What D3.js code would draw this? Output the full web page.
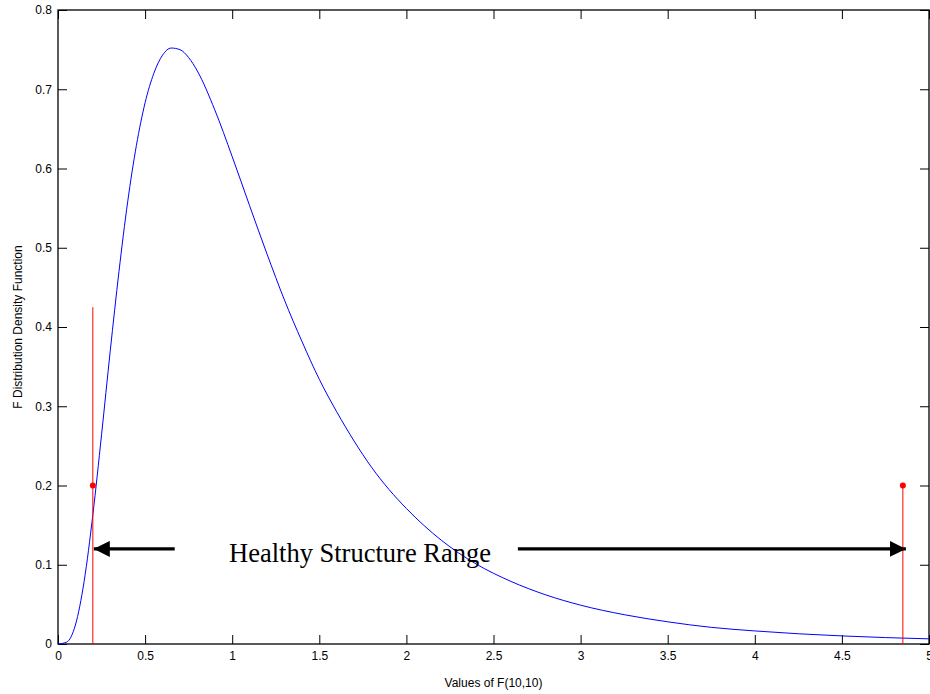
<!DOCTYPE html>
<html lang="en">
<head>
<meta charset="utf-8">
<title>F distribution</title>
<script src="https://cdn.jsdelivr.net/npm/d3@7"></script>
<style>
  body { margin: 0; background: #fff; }
  svg text { font-family: "Liberation Sans", Arial, sans-serif; }
</style>
</head>
<body>
<svg width="930" height="694"></svg>
<script>
// curve (x value, density)
const densX = [0, 0.05, 0.1, 0.15, 0.2, 0.25, 0.3, 0.35, 0.4, 0.45, 0.5, 0.55, 0.6, 0.65, 0.7, 0.75, 0.8, 0.9,
  1.0, 1.1, 1.2, 1.3, 1.4, 1.5, 1.6, 1.7, 1.8, 1.9, 2.0, 2.2, 2.4, 2.6, 2.8, 3.0, 3.25, 3.5, 3.75, 4.0, 4.25, 4.5, 4.75, 5.0];
const densY = [0, 0.0024, 0.024, 0.079, 0.163, 0.264, 0.370, 0.470, 0.558, 0.629, 0.683, 0.720, 0.743, 0.752, 0.750, 0.740, 0.723, 0.674,
  0.615, 0.553, 0.492, 0.434, 0.382, 0.334, 0.293, 0.256, 0.223, 0.195, 0.171, 0.131, 0.101, 0.079, 0.062, 0.049, 0.037, 0.028, 0.021, 0.0165, 0.0129, 0.0102, 0.0081, 0.0065];

// red markers: limits of the healthy range
const limitX = [0.2, 4.85];
const limitTop = [0.425, 0.2];
const limitDot = [0.2, 0.2];

const arrowY = 0.12;
const arrowLeftStart = 0.67;
const arrowRightStart = 2.64;

const xTicks = [0, 0.5, 1, 1.5, 2, 2.5, 3, 3.5, 4, 4.5, 5];
const yTicks = [0, 0.1, 0.2, 0.3, 0.4, 0.5, 0.6, 0.7, 0.8];

const margin = { left: 58, right: 1, top: 10, bottom: 50 };
const svg = d3.select('svg');
const width = +svg.attr('width');
const height = +svg.attr('height');
const innerWidth = width - margin.left - margin.right;
const innerHeight = height - margin.top - margin.bottom;

const x = d3.scaleLinear().domain([0, 5]).range([0, innerWidth]);
const y = d3.scaleLinear().domain([0, 0.8]).range([innerHeight, 0]);

const g = svg.append('g').attr('transform', `translate(${margin.left},${margin.top})`);

const tickLen = 9;
const fmt = d => d3.format('')(d);

const styleAxis = sel => {
  sel.select('.domain').remove();
  sel.selectAll('line').attr('stroke', '#000');
  sel.selectAll('text').attr('font-size', 12).attr('fill', '#000');
};
// top / right axes only carry tick marks
const marksOnly = sel => {
  styleAxis(sel);
  sel.selectAll('text').remove();
};

g.append('g').attr('transform', `translate(0,${innerHeight})`)
  .call(d3.axisBottom(x).tickValues(xTicks).tickSize(-tickLen).tickPadding(5).tickFormat(fmt))
  .call(styleAxis)
  .selectAll('text').attr('dy', '0.9em');
g.append('g')
  .call(d3.axisTop(x).tickValues(xTicks).tickSize(-tickLen))
  .call(marksOnly);
g.append('g')
  .call(d3.axisLeft(y).tickValues(yTicks).tickSize(-tickLen).tickPadding(6).tickFormat(fmt))
  .call(styleAxis);
g.append('g').attr('transform', `translate(${innerWidth},0)`)
  .call(d3.axisRight(y).tickValues(yTicks).tickSize(-tickLen))
  .call(marksOnly);

g.append('rect')
  .attr('width', innerWidth).attr('height', innerHeight)
  .attr('fill', 'none').attr('stroke', '#000').attr('stroke-width', 1.3);

// density curve
const pts = densX.map((v, i) => [v, densY[i]]);
g.append('path')
  .datum(pts)
  .attr('fill', 'none')
  .attr('stroke', '#0000ff')
  .attr('stroke-width', 1)
  .attr('d', d3.line().x(d => x(d[0])).y(d => y(d[1])).curve(d3.curveMonotoneX));

// red limit lines
limitX.forEach((v, i) => {
  g.append('line')
    .attr('x1', x(v)).attr('x2', x(v))
    .attr('y1', y(0)).attr('y2', y(limitTop[i]))
    .attr('stroke', '#ff0000').attr('stroke-width', 1);
  g.append('circle')
    .attr('cx', x(v)).attr('cy', y(limitDot[i])).attr('r', 3)
    .attr('fill', '#ff0000');
});

// arrows
const defs = svg.append('defs');
defs.append('marker')
  .attr('id', 'head')
  .attr('viewBox', '0 0 10 10')
  .attr('refX', 10).attr('refY', 5)
  .attr('markerUnits', 'userSpaceOnUse')
  .attr('markerWidth', 16).attr('markerHeight', 16)
  .attr('orient', 'auto')
  .append('path').attr('d', 'M0,0 L10,5 L0,10 Z').attr('fill', '#000');

g.append('line')
  .attr('x1', x(arrowLeftStart)).attr('x2', x(limitX[0]) + 1)
  .attr('y1', y(arrowY)).attr('y2', y(arrowY))
  .attr('stroke', '#000').attr('stroke-width', 3.3)
  .attr('marker-end', 'url(#head)');
g.append('line')
  .attr('x1', x(arrowRightStart)).attr('x2', x(limitX[1]) + 3)
  .attr('y1', y(arrowY)).attr('y2', y(arrowY))
  .attr('stroke', '#000').attr('stroke-width', 3.3)
  .attr('marker-end', 'url(#head)');

g.append('text')
  .attr('x', 229 - margin.left).attr('y', 562 - margin.top)
  .style('font-family', '"Liberation Serif", "Times New Roman", serif')
  .attr('font-size', 26.5)
  .text('Healthy Structure Range');

// axis titles
svg.append('text')
  .attr('x', margin.left + innerWidth / 2).attr('y', 687)
  .attr('text-anchor', 'middle').attr('font-size', 12)
  .text('Values of F(10,10)');
svg.append('text')
  .attr('transform', `translate(22,${margin.top + innerHeight / 2}) rotate(-90)`)
  .attr('text-anchor', 'middle').attr('font-size', 12)
  .text('F Distribution Density Function');
</script>
</body>
</html>
